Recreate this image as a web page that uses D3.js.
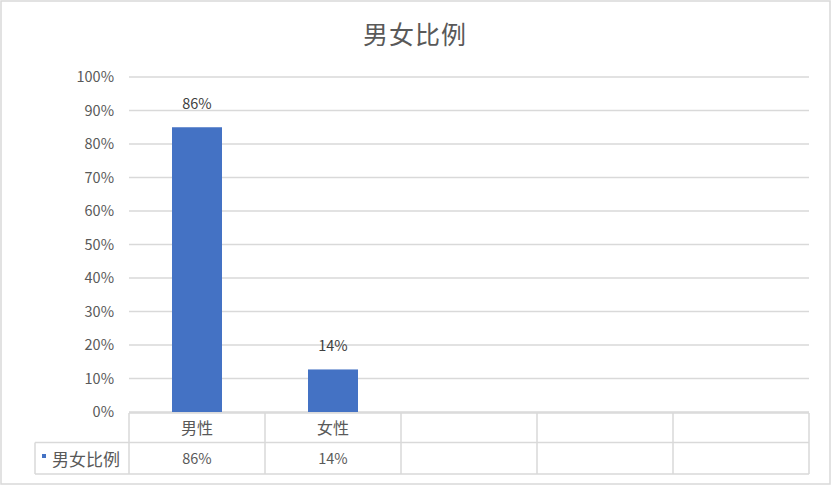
<!DOCTYPE html>
<html><head><meta charset="utf-8">
<script src="https://cdn.jsdelivr.net/npm/d3@7"></script>
<style>
html,body{margin:0;padding:0;background:#fff;}
svg{display:block;font-family:"Noto Sans CJK SC","Noto Sans",sans-serif;}
</style></head>
<body><svg id="c" width="832" height="486"></svg>
<script>
const title = "男女比例";
const seriesName = "男女比例";
const categories = ["男性", "女性", "", "", ""];
const values = [0.85, 0.127, null, null, null];
const valueLabels = ["86%", "14%", "", "", ""];
const yTicks = [0, 0.1, 0.2, 0.3, 0.4, 0.5, 0.6, 0.7, 0.8, 0.9, 1.0];

(function () {
const svg = d3.select("#c");
const grey = "#d9d9d9", txt = "#595959", blue = "#4472c4";
const pL = 129, pR = 809, pT = 77, pB = 412;
const x = d3.scaleBand().domain(d3.range(categories.length)).range([pL, pR]).padding(0);
const y = d3.scaleLinear().domain([0, 1]).range([pB, pT]);

// outer border
svg.append("rect").attr("x", 1).attr("y", 1).attr("width", 829).attr("height", 483)
  .attr("fill", "#fff").attr("stroke", grey).attr("stroke-width", 1.5);

// title
svg.append("text").attr("x", 415).attr("y", 44).attr("text-anchor", "middle")
  .attr("font-size", 25).attr("letter-spacing", 1).attr("fill", txt).text(title);

// gridlines
svg.append("g").selectAll("line").data(yTicks).join("line")
  .attr("x1", pL).attr("x2", pR)
  .attr("y1", d => y(d)).attr("y2", d => y(d))
  .attr("stroke", grey).attr("stroke-width", 1.5);

// y axis labels
const yAxis = d3.axisLeft(y).tickValues(yTicks).tickFormat(d3.format(".0%")).tickSize(0).tickPadding(0);
const ga = svg.append("g").attr("transform", `translate(${pL - 15},0)`).call(yAxis);
ga.select(".domain").remove();
ga.selectAll("text").attr("font-size", 14.5).attr("fill", txt)
  .attr("font-family", "'Noto Sans CJK SC','Noto Sans',sans-serif");

// bars
const bw = 50;
const idx = d3.range(categories.length).filter(i => values[i] != null);
svg.append("g").selectAll("rect").data(idx).join("rect")
  .attr("x", i => x(i) + x.bandwidth() / 2 - bw / 2)
  .attr("width", bw)
  .attr("y", i => y(values[i]))
  .attr("height", i => y(0) - y(values[i]))
  .attr("fill", blue);

// data labels
svg.append("g").selectAll("text").data(idx).join("text")
  .attr("x", i => x(i) + x.bandwidth() / 2)
  .attr("y", i => y(values[i]) - 18)
  .attr("text-anchor", "middle").attr("font-size", 14.5).attr("fill", "#404040")
  .text(i => valueLabels[i]);

// data table
const r0 = 413, r1 = 442.5, r2 = 474, legL = 35;
const tg = svg.append("g").attr("stroke", grey).attr("stroke-width", 1.5).attr("fill", "none");
tg.append("line").attr("x1", pL).attr("x2", pR).attr("y1", r0).attr("y2", r0);
tg.append("line").attr("x1", legL).attr("x2", pR).attr("y1", r1).attr("y2", r1);
tg.append("line").attr("x1", legL).attr("x2", pR).attr("y1", r2).attr("y2", r2);
tg.append("line").attr("x1", legL).attr("x2", legL).attr("y1", r1).attr("y2", r2);
const vx = d3.range(categories.length).map(i => x(i)).concat([pR]);
tg.selectAll("line.v").data(vx).join("line").attr("class", "v")
  .attr("x1", d => d).attr("x2", d => d).attr("y1", r0).attr("y2", r2);

svg.append("g").selectAll("text").data(categories).join("text")
  .attr("x", (d, i) => x(i) + x.bandwidth() / 2).attr("y", 434)
  .attr("text-anchor", "middle").attr("font-size", 16).attr("fill", txt).text(d => d);
svg.append("g").selectAll("text").data(valueLabels).join("text")
  .attr("x", (d, i) => x(i) + x.bandwidth() / 2).attr("y", 464)
  .attr("text-anchor", "middle").attr("font-size", 14.5).attr("fill", txt).text(d => d);

// legend key
svg.append("rect").attr("x", 42).attr("y", 454).attr("width", 4).attr("height", 4).attr("fill", blue);
svg.append("text").attr("x", 52).attr("y", 466).attr("font-size", 17).attr("fill", txt).text(seriesName);
})();
</script></body></html>
